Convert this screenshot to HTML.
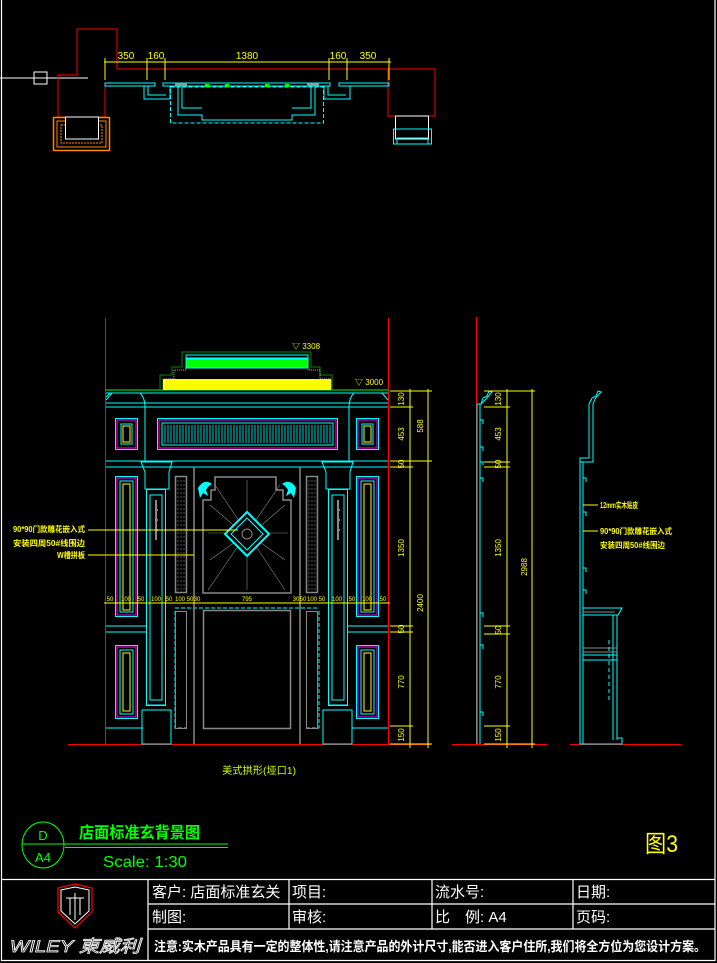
<!DOCTYPE html>
<html><head><meta charset="utf-8"><style>
html,body{margin:0;padding:0;background:#000;width:717px;height:963px;overflow:hidden}
svg{display:block}
text{font-family:"Liberation Sans","Noto Sans CJK SC",sans-serif}
</style></head><body>
<svg width="717" height="963" viewBox="0 0 717 963" xmlns="http://www.w3.org/2000/svg">
<rect width="717" height="963" fill="#000"/>
<!-- frame -->
<g stroke="#fff" stroke-width="1.2" fill="none">
<line x1="1.5" y1="0" x2="1.5" y2="961"/>
<line x1="715" y1="0" x2="715" y2="961"/>
<line x1="1.5" y1="960.5" x2="715" y2="960.5"/>
<line x1="1.5" y1="879.5" x2="715" y2="879.5"/>
<line x1="148" y1="879.5" x2="148" y2="961"/>
<line x1="148" y1="904" x2="715" y2="904"/>
<line x1="148" y1="929" x2="715" y2="929"/>
<line x1="289" y1="879.5" x2="289" y2="929"/>
<line x1="432" y1="879.5" x2="432" y2="929"/>
<line x1="573" y1="879.5" x2="573" y2="929"/>
</g>
<g fill="#fff" font-size="15">
<text x="152" y="897">客户: 店面标准玄关</text>
<text x="292" y="897">项目:</text>
<text x="435" y="897">流水号:</text>
<text x="576" y="897">日期:</text>
<text x="152" y="922">制图:</text>
<text x="292" y="922">审核:</text>
<text x="435" y="922">比　例: A4</text>
<text x="576" y="922">页码:</text>
<text x="154" y="951" font-size="13" font-weight="bold" textLength="552" lengthAdjust="spacingAndGlyphs">注意:实木产品具有一定的整体性,请注意产品的外计尺寸,能否进入客户住所,我们将全方位为您设计方案。</text>
</g>
<!-- logo -->
<path d="M58 888 L75 884 L92 888 L92 912 L75 928 L58 912 Z" fill="none" stroke="#f00" stroke-width="1.2"/>
<path d="M61 890 L75 887 L89 890 L89 911 L75 924 L61 911 Z" fill="none" stroke="#fff"/>
<path d="M66 898 H84 M70 898 V915 M80 898 V915 M75 893 V920" stroke="#fff" fill="none"/>
<text x="10" y="952" font-size="17" font-style="italic" fill="none" stroke="#fff" stroke-width="0.8" textLength="130" lengthAdjust="spacingAndGlyphs">WILEY 東威利</text>
<!-- title -->
<ellipse cx="43" cy="845" rx="21" ry="23" fill="none" stroke="#0f0"/>
<line x1="22" y1="844" x2="228" y2="844" stroke="#0f0"/>
<line x1="65" y1="847.5" x2="228" y2="847.5" stroke="#0f0"/>
<text x="43" y="840" font-size="13" fill="#0f0" text-anchor="middle" font-family="Liberation Serif">D</text>
<text x="43" y="862" font-size="13" fill="#0f0" text-anchor="middle" font-family="Liberation Serif">A4</text>
<text x="79" y="838" font-size="16" fill="#0f0" font-weight="bold" textLength="121" lengthAdjust="spacingAndGlyphs">店面标准玄背景图</text>
<text x="103" y="867" font-size="16" fill="#0f0" font-family="Liberation Serif" textLength="84" lengthAdjust="spacingAndGlyphs">Scale: 1:30</text>
<text x="645" y="852" font-size="24" fill="#ff0" textLength="33" lengthAdjust="spacingAndGlyphs">图3</text>

<!-- top plan -->
<line x1="0" y1="78" x2="88" y2="78" stroke="#fff"/>
<rect x="34" y="72" width="13" height="12" fill="none" stroke="#fff"/>
<path d="M58 117 V75 H77 V29 H117 V69 H435 V116 H388 V69 M58 117 H105 V84" fill="none" stroke="#f00"/>
<rect x="53.5" y="117.5" width="56" height="33" fill="none" stroke="#f80" stroke-width="1.5"/>
<rect x="57" y="121" width="49" height="26" fill="none" stroke="#f80"/>
<rect x="61" y="125" width="41" height="18" fill="none" stroke="#f80" stroke-dasharray="2 1"/>
<rect x="65.5" y="117" width="33" height="22" fill="#000" stroke="#fff"/>
<rect x="395.5" y="116" width="33" height="23" fill="none" stroke="#fff"/>
<rect x="393.5" y="129" width="38" height="15" fill="none" stroke="#0ff"/>
<rect x="397" y="138" width="31" height="6" fill="none" stroke="#0ff"/>
<g stroke="#0ff" fill="none">
<rect x="105" y="83" width="50" height="3"/><rect x="163" y="83" width="167" height="3"/><rect x="339" y="83" width="50" height="3"/>
<path d="M144 86 V99 H170 V86 M148 86 V95 H166"/>
<path d="M324 86 V99 H350 V86 M328 86 V95 H346"/>
<path d="M178 87 V115 H202 V120 H292 V115 H315 V87 M182 87 V108 H202"/>
<path d="M311 87 V108 H292"/>
<rect x="170.5" y="87" width="153" height="36" stroke-dasharray="4 2"/>
</g>
<rect x="175" y="83" width="12" height="3" fill="#999"/><rect x="307" y="83" width="12" height="3" fill="#999"/>
<g fill="#0f0"><rect x="205" y="84" width="4" height="3"/><rect x="225" y="84" width="4" height="3"/><rect x="265" y="84" width="4" height="3"/><rect x="285" y="84" width="4" height="3"/></g>
<g stroke="#ff0" fill="none">
<line x1="104" y1="62" x2="391" y2="62"/>
<path d="M105 58 V80 M147 58 V80 M165 58 V80 M329 58 V80 M347 58 V80 M389 58 V80"/>
</g>
<g fill="#ff0" font-size="10" text-anchor="middle" font-family="Liberation Serif">
<text x="126" y="59">350</text><text x="156" y="59">160</text><text x="247" y="59">1380</text><text x="338" y="59">160</text><text x="368" y="59">350</text>
</g>

<!-- main elevation -->
<line x1="105.5" y1="318" x2="105.5" y2="745" stroke="#f00"/>
<line x1="388.5" y1="318" x2="388.5" y2="745" stroke="#f00"/>
<line x1="68" y1="744.5" x2="430" y2="744.5" stroke="#f00"/>
<line x1="105" y1="390" x2="389" y2="390" stroke="#0a0" stroke-width="1.5"/>
<!-- crown -->
<path d="M160 391 V375 H172 V367 H182 V352 H311 V367 H320 V375 H332 V391" fill="none" stroke="#080"/>
<path d="M163 390 V379 H174 V370 H186 V355 H308 V370 H320 V379 H331 V390" fill="none" stroke="#aaa" stroke-dasharray="1 1"/>
<rect x="163" y="379" width="168" height="11" fill="#ff0"/>
<rect x="186" y="359" width="122" height="9" fill="#0f0" stroke="#0ff"/>
<rect x="186" y="355" width="122" height="3" fill="none" stroke="#0ff"/>
<text x="292" y="349" font-size="8" fill="#ff0">▽ 3308</text>
<text x="355" y="385" font-size="8" fill="#ff0">▽ 3000</text>
<g stroke="#0ff" fill="none" stroke-width="1">
<path d="M106 393 H388 M106 397 L110 393 M106 407 H388 M106 403 H388 M112 393 L106 400 M382 393 L388 400 M140 393 Q145 398 145 407 M354 393 Q349 398 349 407"/>
<line x1="145" y1="407" x2="145" y2="461"/><line x1="349" y1="407" x2="349" y2="461"/>
<path d="M106 461 H388 M106 467 H388"/>
<rect x="115.5" y="418.5" width="22" height="31"/><rect x="121" y="424" width="11" height="20"/>
<rect x="356.5" y="418.5" width="22" height="31"/><rect x="362" y="424" width="11" height="20"/>
<rect x="157.5" y="418.5" width="180" height="31"/><rect x="162" y="423" width="171" height="22"/>
<rect x="115.5" y="476.5" width="22" height="140"/><rect x="120" y="481" width="13" height="131"/>
<rect x="356.5" y="476.5" width="22" height="140"/><rect x="361" y="481" width="13" height="131"/>
<rect x="115.5" y="645.5" width="22" height="73"/><rect x="120" y="650" width="13" height="64"/>
<rect x="356.5" y="645.5" width="22" height="73"/><rect x="361" y="650" width="13" height="64"/>
<path d="M141 462 H172 L169 472 V489 H145 V472 Z"/><path d="M322 462 H353 L350 472 V489 H326 V472 Z"/>
<rect x="146.5" y="489.5" width="19" height="216"/><rect x="150" y="495" width="12" height="205"/>
<rect x="328.5" y="489.5" width="19" height="216"/><rect x="332" y="495" width="12" height="205"/>
<path d="M142 710 H171 V744 H142 Z M146 705 H166"/><path d="M323 710 H352 V744 H323 Z M328 705 H348"/>
<path d="M106 626 H146 M106 632 H146 M348 626 H388 M348 632 H388"/>
<path d="M106 728 H143 M352 728 H388"/>
<path d="M175 611 V728 H187 M319 611 V728 H307" stroke-dasharray="4 2"/>
<line x1="175" y1="608" x2="319" y2="608" stroke-dasharray="4 2"/>
</g>
<g stroke="#f0f" fill="none">
<rect x="117" y="420" width="19" height="28"/><rect x="358" y="420" width="19" height="28"/><rect x="159" y="420" width="177" height="28"/>
<rect x="117" y="478" width="19" height="137"/><rect x="358" y="478" width="19" height="137"/>
<rect x="117" y="647" width="19" height="70"/><rect x="358" y="647" width="19" height="70"/>
</g>
<g stroke="#ff0" fill="none">
<rect x="123" y="426" width="7" height="16"/><rect x="364" y="426" width="7" height="16"/>
<rect x="123" y="484" width="7" height="126"/><rect x="364" y="484" width="7" height="126"/>
<rect x="123" y="653" width="7" height="58"/><rect x="364" y="653" width="7" height="58"/>
</g>
<g stroke="#0ff" stroke-width="0.8">
<path d="M165 425 V443 M168 425 V443 M171 425 V443 M174 425 V443 M177 425 V443 M180 425 V443 M183 425 V443 M186 425 V443 M189 425 V443 M192 425 V443 M195 425 V443 M198 425 V443 M201 425 V443 M204 425 V443 M207 425 V443 M210 425 V443 M213 425 V443 M216 425 V443 M219 425 V443 M222 425 V443 M225 425 V443 M228 425 V443 M231 425 V443 M234 425 V443 M237 425 V443 M240 425 V443 M243 425 V443 M246 425 V443 M249 425 V443 M252 425 V443 M255 425 V443 M258 425 V443 M261 425 V443 M264 425 V443 M267 425 V443 M270 425 V443 M273 425 V443 M276 425 V443 M279 425 V443 M282 425 V443 M285 425 V443 M288 425 V443 M291 425 V443 M294 425 V443 M297 425 V443 M300 425 V443 M303 425 V443 M306 425 V443 M309 425 V443 M312 425 V443 M315 425 V443 M318 425 V443 M321 425 V443 M324 425 V443 M327 425 V443 M330 425 V443"/>
</g>
<!-- door -->
<g stroke="#888" fill="none" stroke-width="1.5">
<line x1="194" y1="467" x2="194" y2="744"/><line x1="300" y1="467" x2="300" y2="744"/>
<path d="M203 593 V500 H211 V490 H215 V477 H276 V490 H283 V500 H291 V593 Z"/>
<rect x="203.5" y="610.5" width="87" height="118"/>
<rect x="175.5" y="476.5" width="11" height="116"/><rect x="306.5" y="476.5" width="11" height="116"/>
<rect x="175.5" y="611.5" width="11" height="117" stroke-width="1"/><rect x="306.5" y="611.5" width="11" height="117" stroke-width="1"/>
</g>
<g stroke="#888" stroke-width="0.6" fill="none">
<path d="M247 480 V590 M208 533 H288 M215 485 L285 590 M280 485 L208 590 M210 505 L245 535 M285 505 L250 535 M210 560 L245 535 M285 560 L250 535"/>
<path d="M178 480 V590 M181 480 V590 M184 480 V590 M309 480 V590 M312 480 V590 M315 480 V590" stroke-dasharray="2 2"/>
</g>
<path d="M247 512 L269 534 L247 556 L225 534 Z" fill="#000" stroke="#0ff" stroke-width="2"/>
<path d="M247 518 L263 534 L247 550 L231 534 Z" fill="none" stroke="#0ff"/>
<circle cx="247" cy="534" r="5" fill="none" stroke="#888"/>
<path d="M198 488 q6 -10 14 -4 q-4 2 -6 6 l2 6 l-5 -3 l-3 5 z" fill="#0ff"/>
<path d="M296 488 q-6 -10 -14 -4 q4 2 6 6 l-2 6 l5 -3 l3 5 z" fill="#0ff"/>
<path d="M156 500 V540 M155 510 h3 M155 520 h3 M155 530 h3" stroke="#888" stroke-width="2"/>
<path d="M338 500 V540 M337 510 h3 M337 520 h3 M337 530 h3" stroke="#888" stroke-width="2"/>
<!-- dim row -->
<line x1="104" y1="603" x2="390" y2="603" stroke="#ff0"/>
<g fill="#ff0" font-size="6" text-anchor="middle">
<text x="110" y="601">50</text><text x="126" y="601">100</text><text x="141" y="601">50</text><text x="156" y="601">100</text><text x="169" y="601">50</text><text x="180" y="601">100</text><text x="190" y="601">50</text><text x="197" y="601">30</text><text x="247" y="601">795</text><text x="296" y="601">30</text><text x="303" y="601">50</text><text x="312" y="601">100</text><text x="322" y="601">50</text><text x="337" y="601">100</text><text x="352" y="601">50</text><text x="367" y="601">100</text><text x="383" y="601">50</text>
</g>
<!-- annotations -->
<line x1="88" y1="530" x2="238" y2="530" stroke="#ff0"/><line x1="88" y1="555" x2="194" y2="555" stroke="#ff0"/>
<g fill="#ff0" font-size="8" font-weight="bold">
<text x="13" y="532" textLength="72" lengthAdjust="spacingAndGlyphs">90*90门款雕花嵌入式</text>
<text x="13" y="546" textLength="72" lengthAdjust="spacingAndGlyphs">安装四周50#线围边</text>
<text x="57" y="558" textLength="28" lengthAdjust="spacingAndGlyphs">W槽拼板</text>
</g>
<!-- right dims -->
<g stroke="#ff0" fill="none">
<line x1="410" y1="389" x2="410" y2="748"/><line x1="428" y1="389" x2="428" y2="748"/>
<path d="M390 391 H432 M390 407 H413 M390 461 H432 M390 467 H413 M390 626 H413 M390 632 H413 M390 726 H413 M390 744 H432"/>
</g>
<g fill="#ff0" font-size="8" text-anchor="middle">
<text transform="translate(404,399) rotate(-90)">130</text>
<text transform="translate(404,434) rotate(-90)">453</text>
<text transform="translate(404,464) rotate(-90)">50</text>
<text transform="translate(404,548) rotate(-90)">1350</text>
<text transform="translate(404,629) rotate(-90)">50</text>
<text transform="translate(404,682) rotate(-90)">770</text>
<text transform="translate(404,735) rotate(-90)">150</text>
<text transform="translate(423,426) rotate(-90)">588</text>
<text transform="translate(423,603) rotate(-90)">2400</text>
</g>
<text x="222" y="774" font-size="10" fill="#cf0" textLength="74" lengthAdjust="spacingAndGlyphs">美式拱形(垭口1)</text>

<!-- side view 1 -->
<line x1="476.5" y1="317" x2="476.5" y2="744" stroke="#f00"/>
<line x1="452" y1="744.5" x2="547" y2="744.5" stroke="#f00"/>
<g stroke="#0ff" fill="none">
<path d="M477 404 V744 M480 404 V744 M477 404 H481 L483 398 L487 396 L489 391 L492 392 L486 399 L481 404"/>
<path d="M480 420 h3 v4 M480 447 h3 v4 M480 462 h3 v3 M480 478 h3 v4 M480 613 h3 v4 M480 645 h3 v4 M480 712 h3 v4"/>
</g>
<g stroke="#ff0" fill="none">
<line x1="507" y1="389" x2="507" y2="748"/><line x1="532" y1="389" x2="532" y2="748"/>
<path d="M484 391 H535 M484 407 H510 M484 462 H510 M484 467 H510 M484 626 H510 M484 634 H510 M484 726 H510 M484 744 H535"/>
</g>
<g fill="#ff0" font-size="8" text-anchor="middle">
<text transform="translate(501,399) rotate(-90)">130</text>
<text transform="translate(501,434) rotate(-90)">453</text>
<text transform="translate(501,464) rotate(-90)">50</text>
<text transform="translate(501,548) rotate(-90)">1350</text>
<text transform="translate(501,630) rotate(-90)">50</text>
<text transform="translate(501,682) rotate(-90)">770</text>
<text transform="translate(501,735) rotate(-90)">150</text>
<text transform="translate(527,567) rotate(-90)">2988</text>
</g>

<!-- side view 2 -->
<line x1="570" y1="744.5" x2="681" y2="744.5" stroke="#f00"/>
<g stroke="#0ff" fill="none">
<path d="M589 404 V458 H580 V462 H593 V404 M589 404 L592 398 L596 396 L598 391 L601 392 L595 399 L593 404"/>
<path d="M580 462 V744 M583 462 V744 M580 744 H622 V738 H617"/>
<path d="M583 608 H622 L618 615 H583 M583 660 H617 M583 655 H617 M617 615 V740 M613 615 V740"/>
<path d="M583 478 h3 v4 M583 512 h3 v4 M583 568 h3 v4 M583 590 h3 v4"/>
</g>
<path d="M583 612 H615 M583 648 H617 M583 652 H617" stroke="#888"/>
<path d="M609 640 V700" stroke="#0ff" stroke-dasharray="4 3"/>
<line x1="583" y1="505" x2="598" y2="505" stroke="#ff0"/><line x1="583" y1="531" x2="598" y2="531" stroke="#ff0"/>
<g fill="#ff0" font-size="8" font-weight="bold">
<text x="600" y="508" textLength="38" lengthAdjust="spacingAndGlyphs">12mm实木贴皮</text>
<text x="600" y="534" textLength="72" lengthAdjust="spacingAndGlyphs">90*90门款雕花嵌入式</text>
<text x="600" y="548" textLength="65" lengthAdjust="spacingAndGlyphs">安装四周50#线围边</text>
</g>
</svg>
</body></html>
